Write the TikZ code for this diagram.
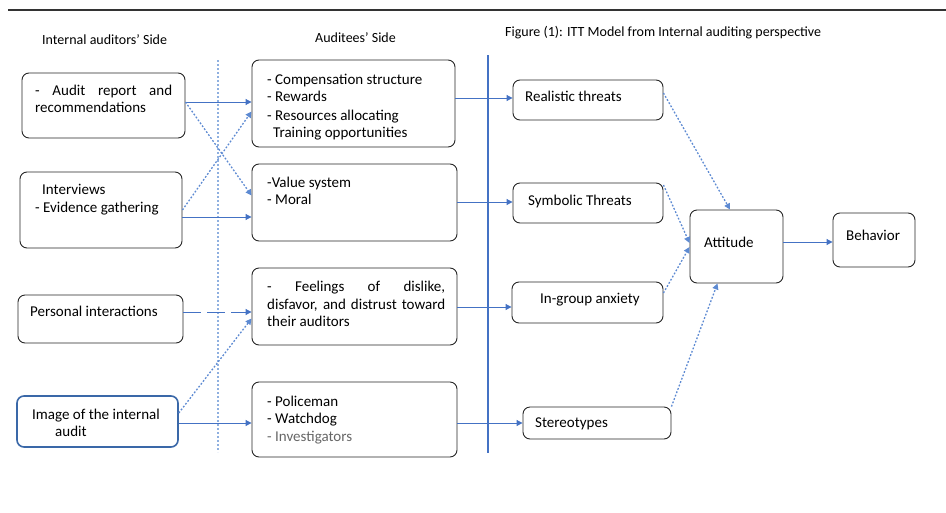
\documentclass[tikz,border=0pt]{standalone}
\usepackage{fontspec}
\setmainfont{Carlito}
\usetikzlibrary{arrows.meta}
\definecolor{arrblue}{HTML}{4472C4}
\definecolor{dotblue}{HTML}{5D8AD2}
\definecolor{vdot}{HTML}{8FB0E0}
\definecolor{imgblue}{HTML}{3A68A8}
\tikzset{
  box/.style={draw=black!85, line width=0.9pt, rounded corners=7pt, inner sep=0pt},
  txt/.style={anchor=base west, inner sep=0pt, font=\fontsize{15}{17}\selectfont},
  ttl/.style={anchor=base west, inner sep=0pt, font=\fontsize{14}{16}\selectfont},
  arr/.style={-{Triangle[length=6pt,width=6pt]}, draw=arrblue, line width=1pt},
  dotarr/.style={-{Triangle[length=6pt,width=6pt]}, draw=dotblue, line width=1.3pt, dash pattern=on 1.8pt off 1.8pt},
  dasharr/.style={arr, dash pattern=on 18pt off 6pt},
}
\begin{document}
\begin{tikzpicture}[x=1pt,y=-1pt]
\useasboundingbox (0,0) rectangle (946,512);
% top rule
\coordinate (rl) at (8,10); \coordinate (rr) at (946,10);
\draw[black!80, line width=1.5pt] (rl) -- (rr);
% titles
\node[ttl] (t1) at (42,44) {Internal auditors' Side};
\node[ttl] (t2) at (315,42.5) {Auditees' Side};
\node[ttl] (t3) at (505,36) {Figure (1): ITT Model from Internal auditing perspective};
% separators
\coordinate (vt) at (218,60); \coordinate (vb) at (218,452);
\draw[vdot, line width=1.1pt, dash pattern=on 2pt off 2pt] (vt) -- (vb);
\coordinate (st) at (488,55); \coordinate (sb) at (488,453);
\draw[arrblue, line width=1.2pt] (st) -- (sb);
% left boxes
\node[box, minimum width=163pt, minimum height=65pt] (a1) at (103.5,105.5) {};
\node[box, minimum width=162pt, minimum height=76pt] (a2) at (101,210) {};
\node[box, minimum width=165pt, minimum height=48pt] (a3) at (100.5,319) {};
\node[box, draw=imgblue, line width=1.6pt, minimum width=161pt, minimum height=51pt] (a4) at (97.5,421.5) {};
\node[txt] (a1l1) at (35,95.5) {\makebox[137pt][s]{- Audit report and}};
\node[txt] (a1l2) at (35,112.5) {recommendations};
\node[txt] (a2l1) at (42,194.5) {Interviews};
\node[txt] (a2l2) at (35,212.5) {- Evidence gathering};
\node[txt] (a3l1) at (30,316) {Personal interactions};
\node[txt] (a4l1) at (32,419.5) {Image of the internal};
\node[txt] (a4l2) at (55,436.5) {audit};
% middle boxes
\node[box, minimum width=203pt, minimum height=87pt] (m1) at (353.5,103.5) {};
\node[box, minimum width=205pt, minimum height=77pt] (m2) at (354.5,202.5) {};
\node[box, minimum width=205pt, minimum height=77pt] (m3) at (354.5,306.5) {};
\node[box, minimum width=205pt, minimum height=75pt] (m4) at (354.5,419.5) {};
\node[txt] (m1l1) at (267,84) {- Compensation structure};
\node[txt] (m1l2) at (267,101.5) {- Rewards};
\node[txt] (m1l3) at (267,120) {- Resources allocating};
\node[txt] (m1l4) at (273,137.5) {Training opportunities};
\node[txt] (m2l1) at (267,187.5) {-Value system};
\node[txt] (m2l2) at (267,204.5) {- Moral};
\node[txt] (m3l1) at (267,291.5) {\makebox[178pt][s]{- Feelings of dislike,}};
\node[txt] (m3l2) at (267,309) {\makebox[178pt][s]{disfavor, and distrust toward}};
\node[txt] (m3l3) at (267,326.5) {their auditors};
\node[txt] (m4l1) at (267,406.5) {- Policeman};
\node[txt] (m4l2) at (267,423.5) {- Watchdog};
\node[txt, text=black!60] (m4l3) at (267,441.5) {- Investigators};
% right boxes
\node[box, minimum width=150pt, minimum height=40pt] (r1) at (588,100) {};
\node[box, minimum width=150pt, minimum height=40pt] (r2) at (588,203) {};
\node[box, minimum width=151pt, minimum height=41pt] (r3) at (587.5,302.5) {};
\node[box, minimum width=148pt, minimum height=32pt] (r4) at (597,423) {};
\node[box, minimum width=93pt, minimum height=73pt] (att) at (736.5,246.5) {};
\node[box, minimum width=82pt, minimum height=54pt] (beh) at (874,240) {};
\node[txt] (r1l) at (525,101.5) {Realistic threats};
\node[txt] (r2l) at (528,205.5) {Symbolic Threats};
\node[txt] (r3l) at (540,303) {In-group anxiety};
\node[txt] (r4l) at (535,427.5) {Stereotypes};
\node[txt] (attl) at (704,247.5) {Attitude};
\node[txt] (behl) at (846,240.5) {Behavior};
% connectors left -> middle
\draw[arr] ([yshift=3.5pt]a1.east) -- ([yshift=1.5pt]m1.west);
\draw[dotarr] ([yshift=3.5pt]a1.east) -- ([yshift=7pt]m2.west);
\draw[dotarr] (a2.east) -- ([yshift=-8pt]m1.west);
\draw[arr] ([yshift=-7pt]a2.east) -- ([yshift=-14.5pt]m2.west);
\draw[dasharr] ([yshift=7pt]a3.east) -- ([yshift=-5.5pt]m3.west);
\draw[dotarr] ([yshift=8.5pt]a4.east) -- ([yshift=-12pt]m3.west);
\draw[arr] ([yshift=-1.5pt]a4.east) -- ([yshift=-3.5pt]m4.west);
% middle -> right
\draw[arr] ([yshift=5.5pt]m1.east) -- ([yshift=2pt]r1.west);
\draw[arr] ([yshift=0.5pt]m2.east) -- ([yshift=1pt]r2.west);
\draw[arr] ([yshift=-0.5pt]m3.east) -- ([yshift=-4.5pt]r3.west);
\draw[arr] ([yshift=-3.5pt]m4.east) -- (r4.west);
% right -> attitude
\draw[dotarr] ([yshift=7pt]r1.east) -- ([xshift=-6.5pt]att.north);
\draw[dotarr] ([yshift=18pt]r2.east) -- ([yshift=3.5pt]att.west);
\draw[dotarr] ([yshift=9.5pt]r3.east) -- ([yshift=-0.5pt]att.west);
\draw[dotarr] (r4.north east) -- ([xshift=-19pt]att.south);
\draw[arr] ([yshift=4.5pt]att.east) -- ([yshift=-2pt]beh.west);
\end{tikzpicture}
\end{document}
